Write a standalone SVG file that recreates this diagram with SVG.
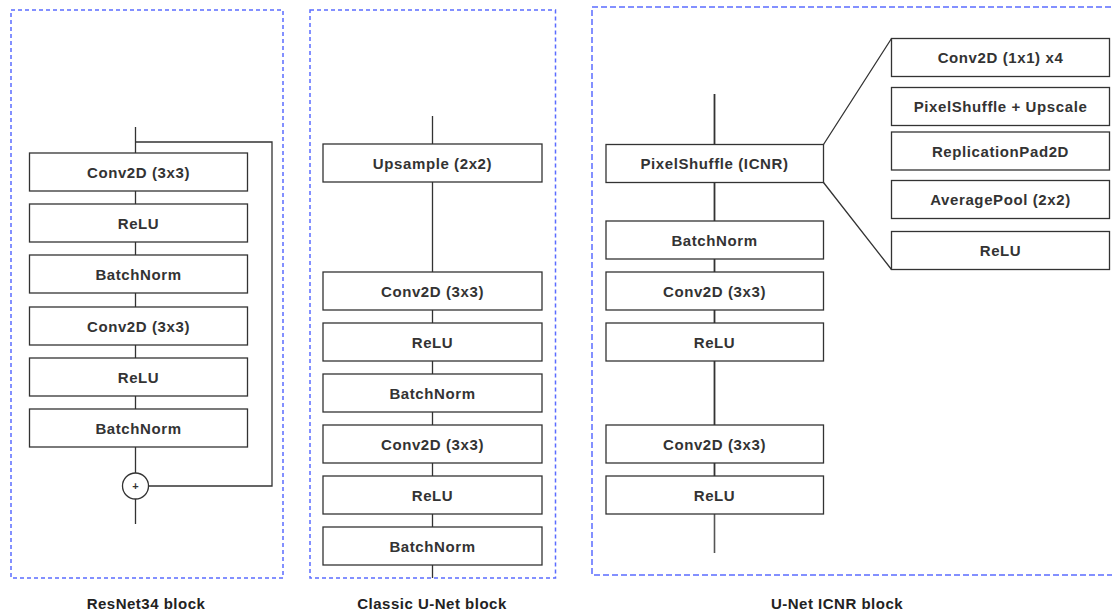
<svg xmlns="http://www.w3.org/2000/svg" width="1112" height="613" viewBox="0 0 1112 613">
<style>
.panel{fill:none;stroke:#5b6cff;stroke-width:1.5;stroke-dasharray:4 3}
.panel3{fill:none;stroke:#5b6cff;stroke-width:1.5;stroke-dasharray:6 3}
.box{fill:#fff;stroke:#333;stroke-width:1.3}
.t{font-family:"Liberation Sans",Arial,sans-serif;font-size:15px;font-weight:bold;fill:#333;text-anchor:middle;letter-spacing:0.6px}
.lbl{font-family:"Liberation Sans",Arial,sans-serif;font-size:15px;font-weight:bold;fill:#222;text-anchor:middle;letter-spacing:0.5px}
.c{fill:none;stroke:#333;stroke-width:1.3}
.c3{fill:none;stroke:#333;stroke-width:1.8}
</style>
<rect width="1112" height="613" fill="#fff"/>
<g id="panels">
<rect class="panel" x="11" y="10" width="272" height="568"/>
<rect class="panel" x="310" y="10" width="245.5" height="568"/>
<path class="panel3" d="M1120,7 H592 V575 H1120"/>
</g>
<g id="connectors">
<path class="c" d="M135.5,127 V153 M135.5,191 V204 M135.5,242 V255 M135.5,293 V307 M135.5,345 V358 M135.5,396 V409 M135.5,447 V473 M135.5,499 V524"/>
<path class="c" d="M135.5,142 H272 V486 H148.5"/>
<path class="c" d="M432.5,116 V144 M432.5,182 V272 M432.5,310 V323 M432.5,361 V374 M432.5,412 V425 M432.5,463 V476 M432.5,514 V527 M432.5,565 V578"/>
<path class="c3" d="M714.5,94 V144 M714.5,183 V221 M714.5,259 V272 M714.5,310 V323 M714.5,361 V425 M714.5,463 V476"/>
<path d="M714.5,514 V553" fill="none" stroke="#555" stroke-width="1.6"/>
<path class="c" d="M823.5,144.5 L891.5,38.5 M823.5,182.5 L891.5,269.5"/>
</g>
<g id="resnet">
<g id="r1"><rect class="box" x="29.5" y="153" width="218" height="38"/><text class="t" x="138.5" y="177.5">Conv2D (3x3)</text></g>
<g id="r2"><rect class="box" x="29.5" y="204" width="218" height="38"/><text class="t" x="138.5" y="228.5">ReLU</text></g>
<g id="r3"><rect class="box" x="29.5" y="255" width="218" height="38"/><text class="t" x="138.5" y="279.5">BatchNorm</text></g>
<g id="r4"><rect class="box" x="29.5" y="307" width="218" height="38"/><text class="t" x="138.5" y="331.5">Conv2D (3x3)</text></g>
<g id="r5"><rect class="box" x="29.5" y="358" width="218" height="38"/><text class="t" x="138.5" y="382.5">ReLU</text></g>
<g id="r6"><rect class="box" x="29.5" y="409" width="218" height="38"/><text class="t" x="138.5" y="433.5">BatchNorm</text></g>
<g id="rplus"><circle cx="135.5" cy="486" r="13" fill="#fff" stroke="#333" stroke-width="1.3"/><text x="135.5" y="490" font-family="Liberation Sans,Arial,sans-serif" font-size="11" font-weight="bold" fill="#333" text-anchor="middle">+</text></g>
<text class="lbl" x="146" y="609">ResNet34 block</text>
</g>
<g id="classic">
<g id="u1"><rect class="box" x="323" y="144" width="219" height="38"/><text class="t" x="432.5" y="168.5">Upsample (2x2)</text></g>
<g id="u2"><rect class="box" x="323" y="272" width="219" height="38"/><text class="t" x="432.5" y="296.5">Conv2D (3x3)</text></g>
<g id="u3"><rect class="box" x="323" y="323" width="219" height="38"/><text class="t" x="432.5" y="347.5">ReLU</text></g>
<g id="u4"><rect class="box" x="323" y="374" width="219" height="38"/><text class="t" x="432.5" y="398.5">BatchNorm</text></g>
<g id="u5"><rect class="box" x="323" y="425" width="219" height="38"/><text class="t" x="432.5" y="449.5">Conv2D (3x3)</text></g>
<g id="u6"><rect class="box" x="323" y="476" width="219" height="38"/><text class="t" x="432.5" y="500.5">ReLU</text></g>
<g id="u7"><rect class="box" x="323" y="527" width="219" height="38"/><text class="t" x="432.5" y="551.5">BatchNorm</text></g>
<text class="lbl" x="432" y="609">Classic U-Net block</text>
</g>
<g id="icnr">
<g id="i1"><rect class="box" x="606" y="144.5" width="217.5" height="38"/><text class="t" x="714.5" y="169">PixelShuffle (ICNR)</text></g>
<g id="i2"><rect class="box" x="606" y="221" width="217.5" height="38"/><text class="t" x="714.5" y="245.5">BatchNorm</text></g>
<g id="i3"><rect class="box" x="606" y="272" width="217.5" height="38"/><text class="t" x="714.5" y="296.5">Conv2D (3x3)</text></g>
<g id="i4"><rect class="box" x="606" y="323" width="217.5" height="38"/><text class="t" x="714.5" y="347.5">ReLU</text></g>
<g id="i5"><rect class="box" x="606" y="425" width="217.5" height="38"/><text class="t" x="714.5" y="449.5">Conv2D (3x3)</text></g>
<g id="i6"><rect class="box" x="606" y="476" width="217.5" height="38"/><text class="t" x="714.5" y="500.5">ReLU</text></g>
<g id="d1"><rect class="box" x="891.5" y="38.5" width="218" height="38"/><text class="t" x="1000.5" y="63">Conv2D (1x1) x4</text></g>
<g id="d2"><rect class="box" x="891.5" y="87.5" width="218" height="38"/><text class="t" x="1000.5" y="112">PixelShuffle + Upscale</text></g>
<g id="d3"><rect class="box" x="891.5" y="132" width="218" height="38"/><text class="t" x="1000.5" y="156.5">ReplicationPad2D</text></g>
<g id="d4"><rect class="box" x="891.5" y="180.5" width="218" height="38"/><text class="t" x="1000.5" y="205">AveragePool (2x2)</text></g>
<g id="d5"><rect class="box" x="891.5" y="231.5" width="218" height="38"/><text class="t" x="1000.5" y="256">ReLU</text></g>
<text class="lbl" x="837" y="609">U-Net ICNR block</text>
</g>
</svg>
